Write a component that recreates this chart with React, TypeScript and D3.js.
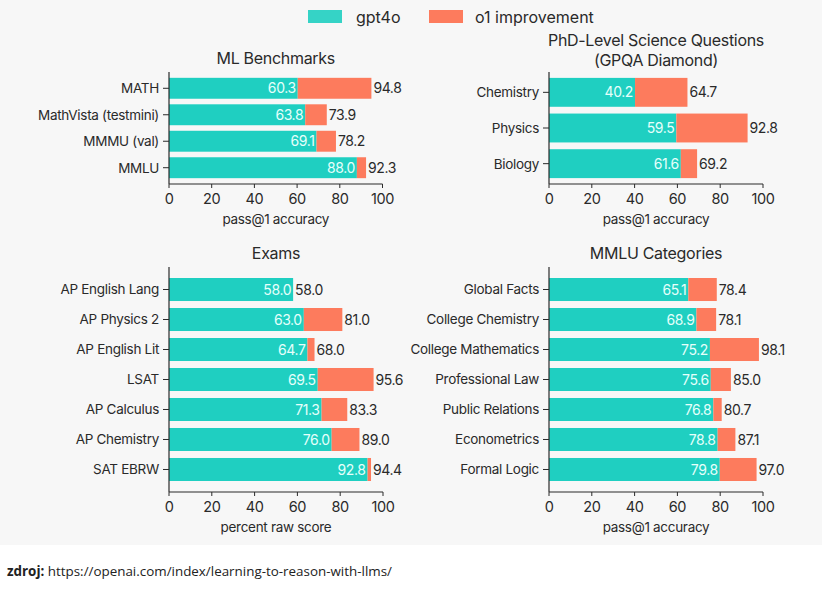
import React from "react";
import * as d3 from "d3";

const mlCats = ["MATH", "MathVista (testmini)", "MMMU (val)", "MMLU"];
const mlGpt4o = [60.3, 63.8, 69.1, 88.0];
const mlO1 = [94.8, 73.9, 78.2, 92.3];

const gpqaCats = ["Chemistry", "Physics", "Biology"];
const gpqaGpt4o = [40.2, 59.5, 61.6];
const gpqaO1 = [64.7, 92.8, 69.2];

const examCats = ["AP English Lang", "AP Physics 2", "AP English Lit", "LSAT", "AP Calculus", "AP Chemistry", "SAT EBRW"];
const examGpt4o = [58.0, 63.0, 64.7, 69.5, 71.3, 76.0, 92.8];
const examO1 = [58.0, 81.0, 68.0, 95.6, 83.3, 89.0, 94.4];

const mmluCats = ["Global Facts", "College Chemistry", "College Mathematics", "Professional Law", "Public Relations", "Econometrics", "Formal Logic"];
const mmluGpt4o = [65.1, 68.9, 75.2, 75.6, 76.8, 78.8, 79.8];
const mmluO1 = [78.4, 78.1, 98.1, 85.0, 80.7, 87.1, 97.0];

const xTicks = [0, 20, 40, 60, 80, 100];
const legendLabels = ["gpt4o", "o1 improvement"];

const TEAL = "#1fcfc1";
const ORANGE = "#fd7b5d";
const TEXT = "#2a2a2a";
const FONT = "Inter, 'Noto Sans', sans-serif";

type PanelProps = {
  title: string[];
  cats: string[];
  base: number[];
  total: number[];
  xLabel: string;
  x0: number;
  x1: number;
  yTop: number;
  yBot: number;
  padInner: number;
  padOuter: number;
  titleY: number;
};

function Panel(p: PanelProps) {
  const x = d3.scaleLinear().domain([0, 100]).range([p.x0, p.x1]);
  const y = d3.scaleBand<string>().domain(p.cats).range([p.yTop, p.yBot]).paddingInner(p.padInner).paddingOuter(p.padOuter);
  const bw = y.bandwidth();
  const cx = (p.x0 + p.x1) / 2;
  return (
    <g fontFamily={FONT}>
      {p.title.map((t, i) => (
        <text key={i} x={cx} y={p.titleY + i * 20} textAnchor="middle" fontSize={16} fill={TEXT} letterSpacing={-0.3}>
          {t}
        </text>
      ))}
      {p.cats.map((c, i) => {
        const yy = y(c)!;
        const xb = x(p.base[i]);
        const xt = x(p.total[i]);
        return (
          <g key={c}>
            <rect x={p.x0} y={yy} width={xb - p.x0} height={bw} fill={TEAL} />
            {xt > xb && <rect x={xb} y={yy} width={xt - xb} height={bw} fill={ORANGE} />}
            <text x={xb - 2} y={yy + bw / 2} dy="0.36em" textAnchor="end" fontSize={14} fill="#e6fffb" letterSpacing={-0.4}>
              {p.base[i].toFixed(1)}
            </text>
            <text x={xt + 2} y={yy + bw / 2} dy="0.36em" textAnchor="start" fontSize={14} fill={TEXT} letterSpacing={-0.4}>
              {p.total[i].toFixed(1)}
            </text>
            <line x1={p.x0 - 6} x2={p.x0} y1={yy + bw / 2} y2={yy + bw / 2} stroke={TEXT} strokeWidth={1} />
            <text x={p.x0 - 10} y={yy + bw / 2} dy="0.36em" textAnchor="end" fontSize={13.5} fill={TEXT} letterSpacing={-0.3}>
              {c}
            </text>
          </g>
        );
      })}
      <line x1={p.x0} x2={p.x0} y1={p.yTop} y2={p.yBot} stroke={TEXT} strokeWidth={1.2} />
      <line x1={p.x0} x2={p.x1} y1={p.yBot} y2={p.yBot} stroke={TEXT} strokeWidth={1.2} />
      {xTicks.map((t) => (
        <g key={t}>
          <line x1={x(t)} x2={x(t)} y1={p.yBot} y2={p.yBot + 4} stroke={TEXT} strokeWidth={1} />
          <text x={x(t)} y={p.yBot + 20} textAnchor="middle" fontSize={14.5} fill={TEXT} letterSpacing={-0.4}>
            {t}
          </text>
        </g>
      ))}
      <text x={cx} y={p.yBot + 40} textAnchor="middle" fontSize={13.5} fill={TEXT} letterSpacing={-0.3}>
        {p.xLabel}
      </text>
    </g>
  );
}

export default function App() {
  return (
    <svg width={822} height={590} style={{ position: "absolute", left: 0, top: 0, background: "#fff" }}>
      <rect x={0} y={0} width={822} height={545} fill="#f7f7f7" />
      <g fontFamily={FONT}>
        <rect x={308} y={10} width={34} height={13} fill="#35d3c6" />
        <text x={356} y={17} dy="0.36em" fontSize={16} fill={TEXT}>{legendLabels[0]}</text>
        <rect x={429} y={10} width={34} height={13} fill={ORANGE} />
        <text x={475} y={17} dy="0.36em" fontSize={16} fill={TEXT}>{legendLabels[1]}</text>
      </g>
      <Panel title={["ML Benchmarks"]} cats={mlCats} base={mlGpt4o} total={mlO1} xLabel="pass@1 accuracy"
        x0={169} x1={382.5} yTop={72} yBot={184} padInner={0.21} padOuter={0.22} titleY={64} />
      <Panel title={["PhD-Level Science Questions", "(GPQA Diamond)"]} cats={gpqaCats} base={gpqaGpt4o} total={gpqaO1} xLabel="pass@1 accuracy"
        x0={549} x1={763} yTop={72} yBot={184} padInner={0.19} padOuter={0.165} titleY={46} />
      <Panel title={["Exams"]} cats={examCats} base={examGpt4o} total={examO1} xLabel="percent raw score"
        x0={169} x1={383} yTop={267} yBot={492} padInner={0.233} padOuter={0.367} titleY={259} />
      <Panel title={["MMLU Categories"]} cats={mmluCats} base={mmluGpt4o} total={mmluO1} xLabel="pass@1 accuracy"
        x0={549} x1={763} yTop={267} yBot={492} padInner={0.233} padOuter={0.367} titleY={259} />
      <text x={7} y={576} fontFamily="'Open Sans', sans-serif" fontSize={13.4} fill="#222">
        <tspan fontWeight={700}>zdroj:</tspan>
        <tspan> https://openai.com/index/learning-to-reason-with-llms/</tspan>
      </text>
    </svg>
  );
}
